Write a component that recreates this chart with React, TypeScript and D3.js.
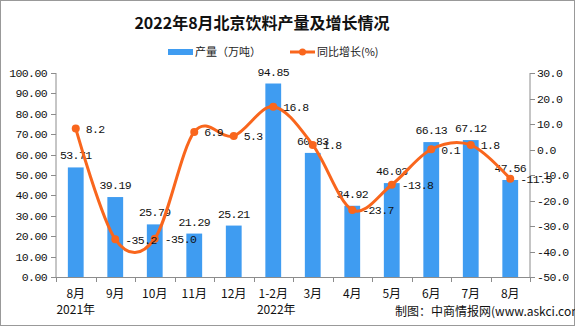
import React from "react";
import * as d3 from "d3";

const categories = ["8月", "9月", "10月", "11月", "12月", "1-2月", "3月", "4月", "5月", "6月", "7月", "8月"];
const output = [53.71, 39.19, 25.79, 21.29, 25.21, 94.85, 60.83, 34.92, 46.03, 66.13, 67.12, 47.56];
const growth = [8.2, -35.2, -35.0, 6.9, 5.3, 16.8, 1.8, -23.7, -13.8, 0.1, 1.8, -11.5];
const leftTicks = [0, 10, 20, 30, 40, 50, 60, 70, 80, 90, 100];
const rightTicks = [-50, -40, -30, -20, -10, 0, 10, 20, 30];
const yearLabels = [{ idx: 0, text: "2021年", dx: 0 }, { idx: 5, text: "2022年", dx: 3 }];

const W = 575, H = 326;
const L = 56, R = 530, T = 73, B = 277;
const BLUE = "#3f9cf1";
const ORANGE = "#f9661d";
const AXIS = "#8c8c8c";
const NUM = "'Liberation Mono', 'DejaVu Sans Mono', monospace";
const CJK = "'Noto Sans CJK SC', sans-serif";
const NS = 11.5;
const LS = -0.6;

export default function App() {
  const x = d3.scaleBand<number>().domain(d3.range(categories.length)).range([L, R]).paddingInner(0).paddingOuter(0);
  const yL = d3.scaleLinear().domain([0, 100]).range([B, T]);
  const yR = d3.scaleLinear().domain([-50, 30]).range([B, T]);
  const bw = x.bandwidth();
  const barW = bw * 0.4;
  const cx = (i: number) => (x(i) as number) + bw / 2;
  const line = d3.line<number>().x((_, i) => cx(i)).y((d) => yR(d)).curve(d3.curveCardinal.tension(0));

  return (
    <svg width={W} height={H} style={{ position: "absolute", left: 0, top: 0, background: "#fff" }}>
      <rect x={0.5} y={0.5} width={W - 1} height={H - 1} fill="#fff" stroke="#999" />
      <text x={262} y={29} textAnchor="middle" fontFamily={CJK} fontWeight="bold" fontSize={16} fill="#111">
        2022年8月北京饮料产量及增长情况
      </text>
      {/* legend */}
      <rect x={168} y={49} width={25} height={6} fill={BLUE} />
      <text x={195} y={56} fontFamily={CJK} fontSize={11} fill="#222">产量（万吨）</text>
      <line x1={290} x2={315} y1={52} y2={52} stroke={ORANGE} strokeWidth={3} />
      <circle cx={302.5} cy={52} r={3.5} fill={ORANGE} />
      <text x={317} y={56} fontFamily={CJK} fontSize={11} fill="#222">同比增长(%)</text>

      {/* bars */}
      {output.map((v, i) => (
        <rect key={"b" + i} x={cx(i) - barW / 2} y={yL(v)} width={barW} height={B - yL(v)} fill={BLUE} />
      ))}
      {output.map((v, i) => (
        <text key={"bl" + i} x={cx(i)} y={yL(v) - 8} textAnchor="middle" fontFamily={NUM} fontSize={NS} letterSpacing={LS} fill="#111">
          {v.toFixed(2)}
        </text>
      ))}

      {/* axes */}
      <line x1={L} x2={L} y1={T} y2={B} stroke={AXIS} />
      <line x1={R} x2={R} y1={T} y2={B} stroke={AXIS} />
      <line x1={L} x2={R} y1={B + 0.5} y2={B + 0.5} stroke={AXIS} />
      {leftTicks.map((t) => (
        <g key={"lt" + t}>
          <line x1={L - 5} x2={L} y1={Math.round(yL(t)) + 0.5} y2={Math.round(yL(t)) + 0.5} stroke={AXIS} />
          <text x={47} y={yL(t) + 4} textAnchor="end" fontFamily={NUM} fontSize={NS} letterSpacing={LS} fill="#111">{t.toFixed(2)}</text>
        </g>
      ))}
      {rightTicks.map((t) => (
        <g key={"rt" + t}>
          <line x1={R} x2={R + 5} y1={Math.round(yR(t)) + 0.5} y2={Math.round(yR(t)) + 0.5} stroke={AXIS} />
          <text x={537} y={yR(t) + 4} textAnchor="start" fontFamily={NUM} fontSize={NS} letterSpacing={LS} fill="#111">{t.toFixed(1)}</text>
        </g>
      ))}
      {d3.range(categories.length + 1).map((i) => {
        const xx = Math.round(L + i * bw) + 0.5;
        return <line key={"xt" + i} x1={xx} x2={xx} y1={B} y2={B + 5} stroke={AXIS} />;
      })}
      {categories.map((c, i) => (
        <text key={"xl" + i} x={cx(i)} y={298} textAnchor="middle" fontFamily={CJK} fontSize={12} fill="#111">{c}</text>
      ))}
      {yearLabels.map((y) => (
        <text key={"y" + y.idx} x={cx(y.idx) + y.dx} y={314} textAnchor="middle" fontFamily={CJK} fontSize={12} fill="#111">{y.text}</text>
      ))}

      {/* line */}
      <path d={line(growth) || ""} fill="none" stroke={ORANGE} strokeWidth={3} />
      {growth.map((v, i) => (
        <circle key={"m" + i} cx={cx(i)} cy={yR(v)} r={4} fill={ORANGE} />
      ))}
      {growth.map((v, i) => (
        <text key={"ml" + i} x={cx(i) + 10} y={yR(v) + 4.5} fontFamily={NUM} fontSize={NS} letterSpacing={LS} fill="#111">{v.toFixed(1)}</text>
      ))}

      <text x={395} y={316} fontFamily={CJK} fontSize={12} fill="#111">制图：中商情报网(www.askci.com)</text>
    </svg>
  );
}
